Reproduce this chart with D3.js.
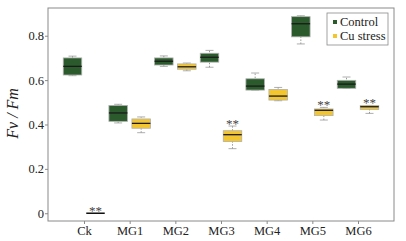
<!DOCTYPE html>
<html>
<head>
<meta charset="utf-8">
<script src="https://cdn.jsdelivr.net/npm/d3@7"></script>
<style>
  body { margin: 0; background: #fff; }
  svg text { font-family: "Liberation Serif", "DejaVu Serif", serif !important; fill: #222; }
</style>
</head>
<body>
<svg></svg>
<script>
// Data
const groups = ["Ck", "MG1", "MG2", "MG3", "MG4", "MG5", "MG6"];
const seriesNames = ["Control", "Cu stress"];
// [whisker low, q1, median, q3, whisker high]
const controlStats = [
  [0.620, 0.623, 0.662, 0.700, 0.708],
  [0.407, 0.414, 0.452, 0.486, 0.491],
  [0.662, 0.668, 0.685, 0.700, 0.709],
  [0.658, 0.681, 0.703, 0.721, 0.734],
  [0.555, 0.555, 0.573, 0.606, 0.632],
  [0.763, 0.795, 0.854, 0.886, 0.890],
  [0.563, 0.563, 0.582, 0.599, 0.614]
];
const stressStats = [
  [0, 0, 0, 0, 0],
  [0.363, 0.383, 0.405, 0.425, 0.434],
  [0.642, 0.649, 0.660, 0.673, 0.677],
  [0.291, 0.323, 0.354, 0.372, 0.393],
  [0.507, 0.510, 0.528, 0.558, 0.567],
  [0.420, 0.440, 0.464, 0.470, 0.477],
  [0.450, 0.468, 0.480, 0.486, 0.486]
];
const signif = ["**", "", "", "**", "", "**", "**"];
const yTicks = [0, 0.2, 0.4, 0.6, 0.8];

// Sizes
const margin = { t: 8, b: 20, l: 48, r: 12 };
const W = 406, H = 241;
const width = W - margin.l - margin.r;
const height = H - margin.t - margin.b;
const colors = ["#2b5b2c", "#f3c62f"];

const svg = d3.select("svg")
  .attr("width", W)
  .attr("height", H)
  .append("g")
    .attr("transform", `translate(${margin.l}, ${margin.t})`);

// Scales
const xScale = d3.scalePoint()
  .domain(groups)
  .range([36, 310]);

const yScale = d3.scaleLinear()
  .domain([-0.035, 0.925])
  .range([height, 0]);

const offset = 11.5, boxW = 18.5;

// Frame
svg.append("rect")
  .attr("width", width)
  .attr("height", height)
  .attr("fill", "none")
  .attr("stroke", "#8a8a8a")
  .attr("stroke-width", 1);

// Axes
const xAxis = svg.append("g")
  .attr("transform", `translate(0, ${height})`)
  .call(d3.axisBottom(xScale).tickSize(3).tickPadding(2));
xAxis.select(".domain").remove();
xAxis.selectAll("line").attr("stroke", "#8a8a8a");
xAxis.selectAll("text").style("font-size", "12.5px").attr("fill", "#222");

const yAxis = svg.append("g")
  .call(d3.axisLeft(yScale).tickValues(yTicks).tickSize(3).tickPadding(1)
    .tickFormat(d => d === 0 ? "0" : d3.format(".1f")(d)));
yAxis.select(".domain").remove();
yAxis.selectAll("line").attr("stroke", "#8a8a8a");
yAxis.selectAll("text").style("font-size", "12.5px").attr("fill", "#222");

// Axis title
svg.append("text")
  .attr("transform", `translate(-30, ${yScale(0.45)}) rotate(-90)`)
  .attr("text-anchor", "middle")
  .style("font-size", "16px")
  .style("font-style", "italic")
  .text("Fv / Fm");

// Boxes
function drawBox(stats, gi, si) {
  const cx = xScale(groups[gi]) + (si === 0 ? -offset : offset);
  const [lo, q1, med, q3, hi] = stats;
  const g = svg.append("g");
  if (hi === 0 && q3 === 0) {
    // zero line
    g.append("line")
      .attr("x1", cx - boxW / 2).attr("x2", cx + boxW / 2)
      .attr("y1", yScale(0)).attr("y2", yScale(0))
      .attr("stroke", "#111").attr("stroke-width", 1.5);
    return;
  }
  g.append("line")
    .attr("x1", cx).attr("x2", cx)
    .attr("y1", yScale(lo)).attr("y2", yScale(hi))
    .attr("stroke", "#999").attr("stroke-dasharray", "1.5,1.5");
  [lo, hi].forEach(v => {
    g.append("line")
      .attr("x1", cx - 4).attr("x2", cx + 4)
      .attr("y1", yScale(v)).attr("y2", yScale(v))
      .attr("stroke", "#999").attr("stroke-width", 0.8);
  });
  g.append("rect")
    .attr("x", cx - boxW / 2)
    .attr("y", yScale(q3))
    .attr("width", boxW)
    .attr("height", yScale(q1) - yScale(q3))
    .attr("fill", colors[si])
    .attr("stroke", "#b0b0b0")
    .attr("stroke-width", 0.8);
  g.append("line")
    .attr("x1", cx - boxW / 2).attr("x2", cx + boxW / 2)
    .attr("y1", yScale(med)).attr("y2", yScale(med))
    .attr("stroke", "#1a1a1a").attr("stroke-width", 1.3);
}

controlStats.forEach((s, i) => drawBox(s, i, 0));
stressStats.forEach((s, i) => drawBox(s, i, 1));

// Significance marks
signif.forEach((s, i) => {
  if (!s) return;
  svg.append("text")
    .attr("x", xScale(groups[i]) + offset)
    .attr("y", yScale(stressStats[i][4]) + 2)
    .attr("text-anchor", "middle")
    .style("font-size", "13px")
    .style("fill", "#444")
    .text(s);
});

// Legend
const legend = svg.append("g")
  .attr("transform", `translate(${width - 67}, 5)`);
legend.append("rect")
  .attr("width", 61)
  .attr("height", 32)
  .attr("fill", "#fff")
  .attr("stroke", "#8a8a8a")
  .attr("stroke-width", 0.8);
seriesNames.forEach((n, i) => {
  legend.append("rect")
    .attr("x", 6).attr("y", 7 + i * 14)
    .attr("width", 4).attr("height", 4)
    .attr("fill", colors[i]);
  legend.append("text")
    .attr("x", 13).attr("y", 13 + i * 14)
    .style("font-size", "12.5px")
    .text(n);
});
</script>
</body>
</html>
